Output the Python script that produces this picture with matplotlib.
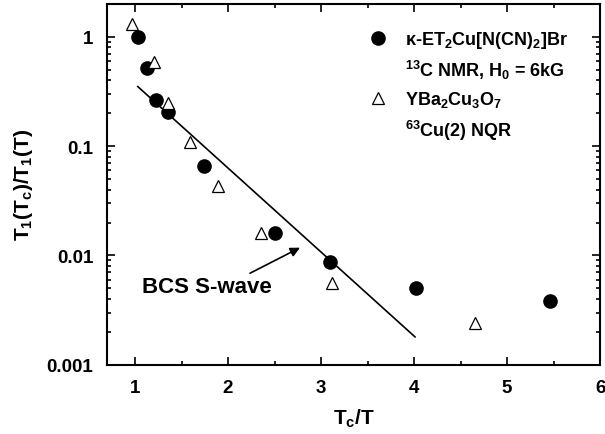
import numpy as np
import matplotlib
matplotlib.use("Agg")
import matplotlib.pyplot as plt
from matplotlib.ticker import FixedLocator, FuncFormatter, MultipleLocator, LogLocator

plt.rcParams['font.family'] = ['Liberation Sans', 'DejaVu Sans']
plt.rcParams['font.weight'] = 'bold'
plt.rcParams['mathtext.fontset'] = 'custom'
plt.rcParams['mathtext.rm'] = 'Liberation Sans:bold'
plt.rcParams['mathtext.bf'] = 'Liberation Sans:bold'
plt.rcParams['mathtext.it'] = 'Liberation Sans:bold'

# kappa-ET2Cu[N(CN)2]Br, 13C NMR
et_x = [1.03, 1.13, 1.23, 1.36, 1.74, 2.51, 3.10, 4.02, 5.46]
et_y = [1.0, 0.52, 0.266, 0.206, 0.066, 0.0159, 0.0088, 0.0050, 0.0038]

# YBa2Cu3O7, 63Cu(2) NQR
ybco_x = [0.97, 1.20, 1.36, 1.59, 1.89, 2.35, 3.12, 4.66]
ybco_y = [1.32, 0.59, 0.25, 0.11, 0.043, 0.016, 0.0056, 0.0024]

# BCS s-wave line (straight on semilog)
bcs_x = [1.03, 4.01]
bcs_y = [0.35, 0.0018]

fig = plt.figure(figsize=(6.05, 4.35), dpi=100)
ax = fig.add_axes([0.177, 0.159, 0.815, 0.830])

ax.plot(bcs_x, bcs_y, color='black', lw=1.2)
h1, = ax.plot(et_x, et_y, 'o', color='black', ms=9.5, ls='none')
h2, = ax.plot(ybco_x, ybco_y, '^', mfc='white', mec='black', mew=0.9, ms=8.5, ls='none')

ax.set_yscale('log')
ax.set_xlim(0.7, 6)
ax.set_ylim(0.001, 2)

ax.xaxis.set_major_locator(MultipleLocator(1))
ax.xaxis.set_minor_locator(MultipleLocator(0.5))
ax.yaxis.set_major_locator(FixedLocator([0.001, 0.01, 0.1, 1]))
ax.yaxis.set_minor_locator(LogLocator(base=10, subs=np.arange(2, 10)))
ax.yaxis.set_major_formatter(FuncFormatter(lambda v, p: '%g' % v))
ax.yaxis.set_minor_formatter(FuncFormatter(lambda v, p: ''))

ax.tick_params(which='both', direction='in', top=True, right=True, labelsize=13.5, width=1.2)
ax.tick_params(which='major', length=6, pad=10)
ax.tick_params(which='minor', length=3)
for s in ax.spines.values():
    s.set_linewidth(1.5)

ax.set_xlabel(r'$\mathrm{T_c/T}$', fontsize=15, labelpad=8)
ax.set_ylabel(r'$\mathrm{T_1(T_c)/T_1(T)}$', fontsize=15, labelpad=8)

ax.annotate('', xy=(2.80, 0.0121), xytext=(2.21, 0.0067),
            arrowprops=dict(arrowstyle='-|>', color='black', lw=1.2, mutation_scale=14))
ax.text(1.075, 0.0052, 'BCS S-wave', fontsize=16, fontweight='bold', ha='left', va='center')

blank, = ax.plot([], [], ls='none')
labels = [r'$\mathrm{\kappa}$-ET$_2$Cu[N(CN)$_2$]Br',
          r'$^{13}$C NMR, H$_0$ = 6kG',
          r'YBa$_2$Cu$_3$O$_7$',
          r'$^{63}$Cu(2) NQR']
leg = ax.legend([h1, blank, h2, blank], labels, loc='upper left',
                bbox_to_anchor=(0.531, 0.93), frameon=False, fontsize=13,
                labelspacing=0.45, handlelength=1.0, handletextpad=1.0,
                borderpad=0, borderaxespad=0)

fig.savefig('out.png', dpi=100)
